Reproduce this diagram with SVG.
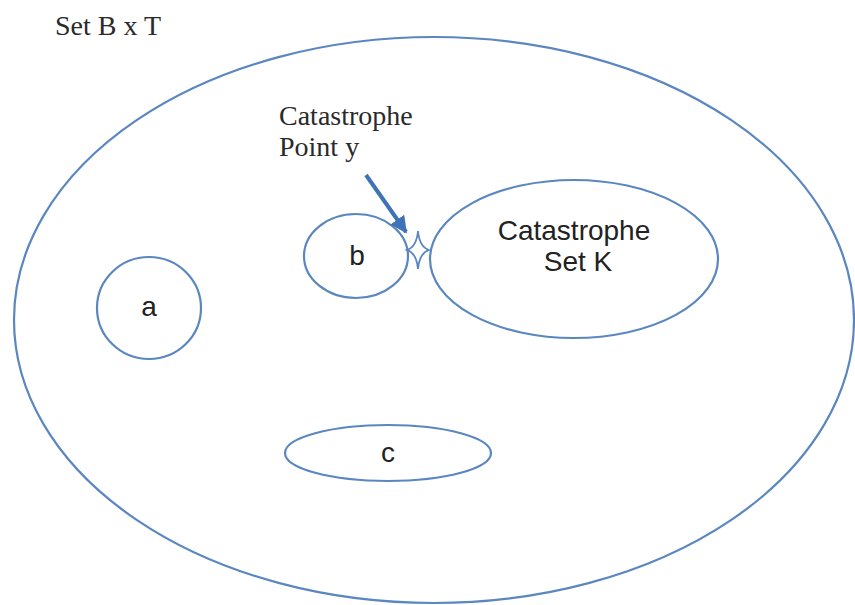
<svg xmlns="http://www.w3.org/2000/svg" width="855" height="605" viewBox="0 0 855 605">
  <style>
    .set { fill: none; stroke: #5a87c0; stroke-width: 2.2; }
    .serif { font-family: "Liberation Serif", "Times New Roman", serif; font-size: 28px; fill: #2a2a2a; }
    .sans { font-family: "Liberation Sans", Arial, sans-serif; font-size: 28px; fill: #222; text-anchor: middle; }
  </style>
  <defs>
    <marker id="head" viewBox="0 0 10 10" refX="9" refY="5" markerWidth="4.2" markerHeight="4.2" orient="auto" markerUnits="strokeWidth">
      <path d="M0,0 L10,5 L0,10 Z" fill="#3f73b5"/>
    </marker>
  </defs>
  <rect width="855" height="605" fill="#ffffff"/>

  <text class="serif" x="55" y="35">Set B x T</text>

  <g id="universe">
    <ellipse class="set" cx="434" cy="320" rx="420" ry="283"/>
  </g>

  <g id="set-a">
    <ellipse class="set" cx="149" cy="308" rx="52" ry="51"/>
    <text class="sans" x="149" y="316">a</text>
  </g>

  <g id="set-b">
    <ellipse class="set" cx="356" cy="256" rx="52" ry="42"/>
    <text class="sans" x="357" y="265">b</text>
  </g>

  <g id="set-c">
    <ellipse class="set" cx="388" cy="453" rx="103" ry="28"/>
    <text class="sans" x="388" y="462">c</text>
  </g>

  <g id="set-k">
    <ellipse class="set" cx="574" cy="259" rx="144" ry="79"/>
    <text class="sans" x="574" y="240">Catastrophe</text>
    <text class="sans" x="578" y="271">Set K</text>
  </g>

  <g id="point-y">
    <path d="M418,231 Q419.5,247 429,250 Q419.5,253 418,269 Q416.5,253 407,250 Q416.5,247 418,231 Z" fill="#ffffff" stroke="#5a87c0" stroke-width="1.8"/>
    <text class="serif" x="279" y="125">Catastrophe</text>
    <text class="serif" x="279" y="156">Point y</text>
  </g>

  <g id="connectors">
    <line x1="366" y1="175" x2="406" y2="232" stroke="#3f73b5" stroke-width="4" marker-end="url(#head)"/>
  </g>
</svg>
